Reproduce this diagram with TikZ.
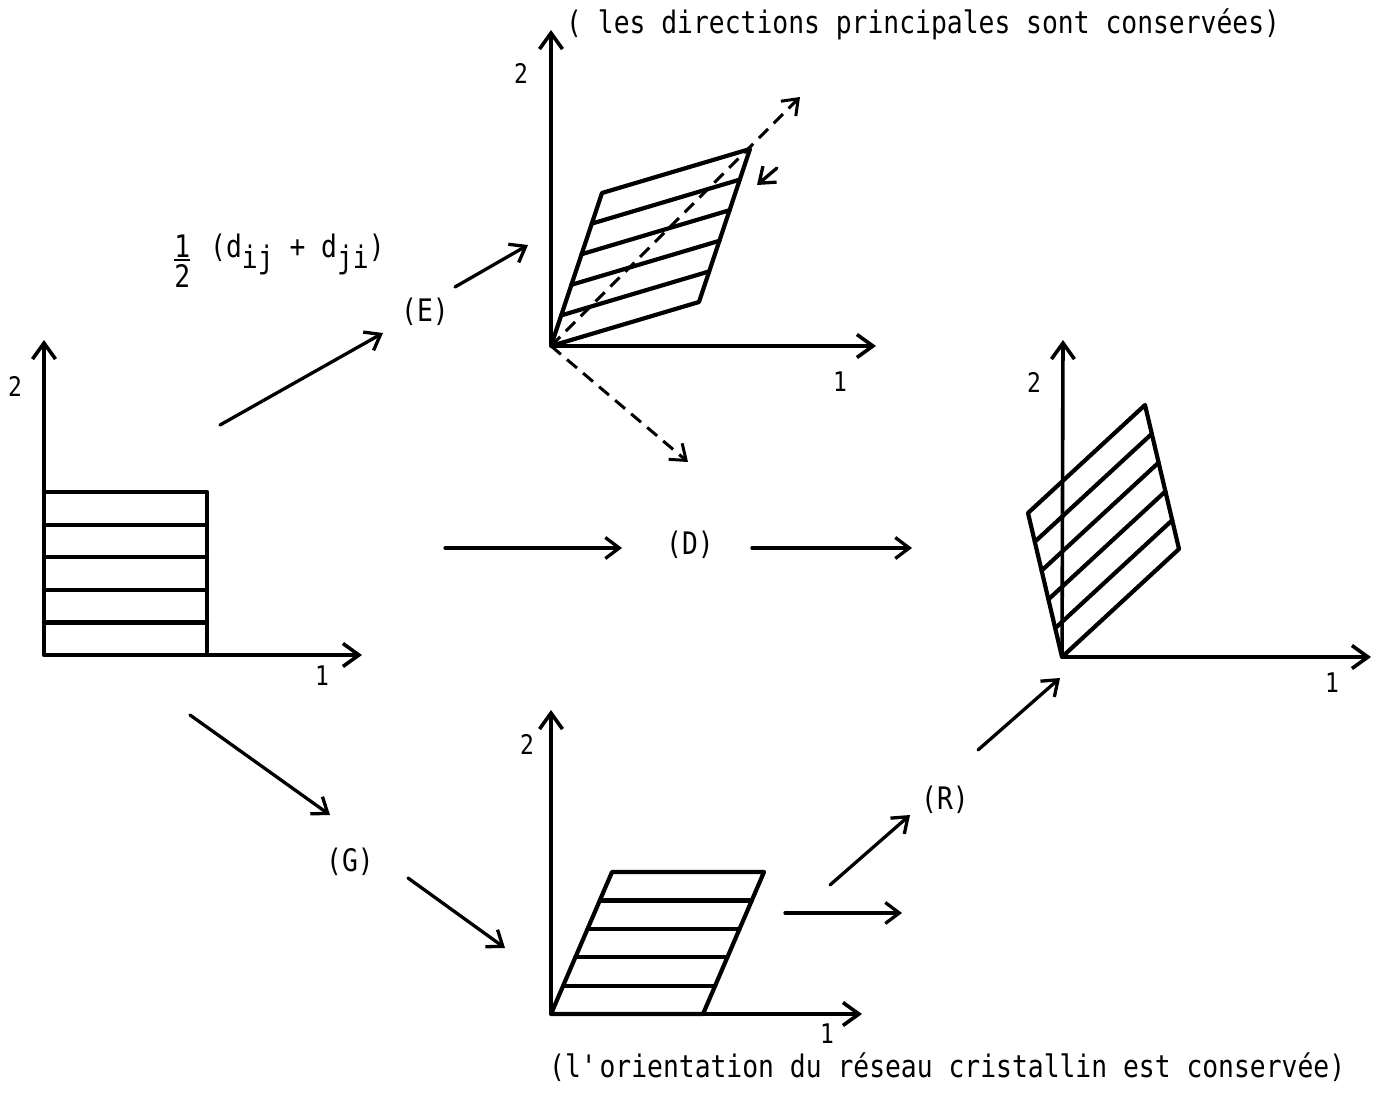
\documentclass[tikz,border=0pt]{standalone}
\usepackage{fontspec}
\setmainfont[FakeStretch=0.85]{DejaVu Sans Mono}
\usetikzlibrary{arrows.meta,calc}
\tikzset{
  ln/.style={line width=4.2pt, line cap=round, line join=round},
  arr/.style={line width=3.3pt, line cap=round, -{Straight Barb[length=14pt,width=21pt,line width=3.3pt]}},
  axis/.style={line width=3.6pt, -{Straight Barb[length=16pt,width=23pt,line width=3.6pt]}},
  dsh/.style={line width=3pt, dash pattern=on 13pt off 8pt, -{Straight Barb[length=14pt,width=21pt,line width=3pt]}},
  lbl/.style={font=\fontsize{31}{36}\selectfont, inner sep=0pt},
  num/.style={font=\fontsize{27}{30}\selectfont, inner sep=0pt},
}
\newcommand\hatchpar[3]{%
  \draw[ln] (#1) -- (#2) -- ++(#3) -- ($(#1)+(#3)$) -- cycle;
  \foreach \k in {1,...,4}{\draw[ln] ($(#1)!\k/5!(#2)$) -- ++(#3);}
}
\begin{document}
\begin{tikzpicture}[x=1pt,y=-1pt]
\useasboundingbox (0,0) rectangle (1386,1099);

% ---------- left panel (initial) ----------
\coordinate (O1) at (44,655);
\coordinate (T1) at (44,492);
\coordinate (Y1) at (44,340);
\coordinate (X1) at (362,655);
\hatchpar{O1}{T1}{163,0}
\draw[axis] (O1) -- (Y1);
\draw[axis] (O1) -- (X1);
\node[num] (l2a) at (15,386) {2};
\node[num] (l1a) at (322,676) {1};

% ---------- top panel (E) ----------
\coordinate (O2) at (551,346);
\coordinate (T2) at (602,193);
\coordinate (Y2) at (551,30);
\coordinate (X2) at (876,346);
\hatchpar{O2}{T2}{148,-44}
\draw[axis] (O2) -- (Y2);
\draw[axis] (O2) -- (X2);
\coordinate (P1) at (800,97);
\coordinate (P2) at (688,462);
\draw[dsh] (O2) -- (P1);
\draw[dsh] (O2) -- (P2);
\coordinate (c1) at (777,168);
\coordinate (c2) at (757,185);
\draw[arr] (c1) -- (c2);
\node[num] (l2b) at (521,73) {2};
\node[num] (l1b) at (840,382) {1};

% ---------- right panel (final) ----------
\coordinate (O3) at (1062,657);
\coordinate (T3) at (1028,513);
\coordinate (Y3) at (1063,340);
\coordinate (X3) at (1371,657);
\hatchpar{O3}{T3}{117,-108}
\draw[axis] (O3) -- (Y3);
\draw[axis] (O3) -- (X3);
\node[num] (l2c) at (1034,382) {2};
\node[num] (l1c) at (1332,683) {1};

% ---------- bottom panel (G) ----------
\coordinate (O4) at (551,1014);
\coordinate (T4) at (612,872);
\coordinate (Y4) at (551,710);
\coordinate (X4) at (862,1014);
\hatchpar{O4}{T4}{152,0}
\draw[axis] (O4) -- (Y4);
\draw[axis] (O4) -- (X4);
\node[num] (l2d) at (527,744) {2};
\node[num] (l1d) at (827,1034) {1};

% ---------- labels ----------
\node[lbl] (E) at (425,312) {(E)};
\node[lbl] (D) at (690,545) {(D)};
\node[lbl] (G) at (350,862) {(G)};
\node[lbl] (R) at (945,800) {(R)};
\node[lbl, anchor=base west] (toptxt) at (566,34) {( les directions principales sont conservées)};
\node[lbl, anchor=base west] (bottxt) at (549,1077) {(l\textquotesingle orientation du réseau cristallin est conservée)};
\node[lbl, anchor=base west] (formula) at (210,258)
  {\llap{\raisebox{-30pt}{\fontsize{31}{31}\selectfont\vbox{\hbox{1}\kern2pt\hrule height 1.8pt\kern4pt\hbox{2}}}\hspace{20pt}}(d\raisebox{-11pt}{ij} + d\raisebox{-11pt}{ji})};

% ---------- connectors ----------
\coordinate (a1) at (220,425); \coordinate (a2) at (383,333);
\coordinate (a3) at (455,287); \coordinate (a4) at (528,245);
\draw[arr] (a1) -- (a2);
\draw[arr] (a3) -- (a4);
\coordinate (b1) at (445,548); \coordinate (b2) at (622,548);
\coordinate (b3) at (752,548); \coordinate (b4) at (912,548);
\draw[arr] (b1) -- (b2);
\draw[arr] (b3) -- (b4);
\coordinate (g1) at (190,715); \coordinate (g2) at (330,815);
\coordinate (g3) at (408,878); \coordinate (g4) at (505,948);
\draw[arr] (g1) -- (g2);
\draw[arr] (g3) -- (g4);
\coordinate (h1) at (785,913); \coordinate (h2) at (902,913);
\draw[arr] (h1) -- (h2);
\coordinate (r1) at (830,885); \coordinate (r2) at (910,815);
\coordinate (r3) at (978,750); \coordinate (r4) at (1060,678);
\draw[arr] (r1) -- (r2);
\draw[arr] (r3) -- (r4);
\end{tikzpicture}
\end{document}
